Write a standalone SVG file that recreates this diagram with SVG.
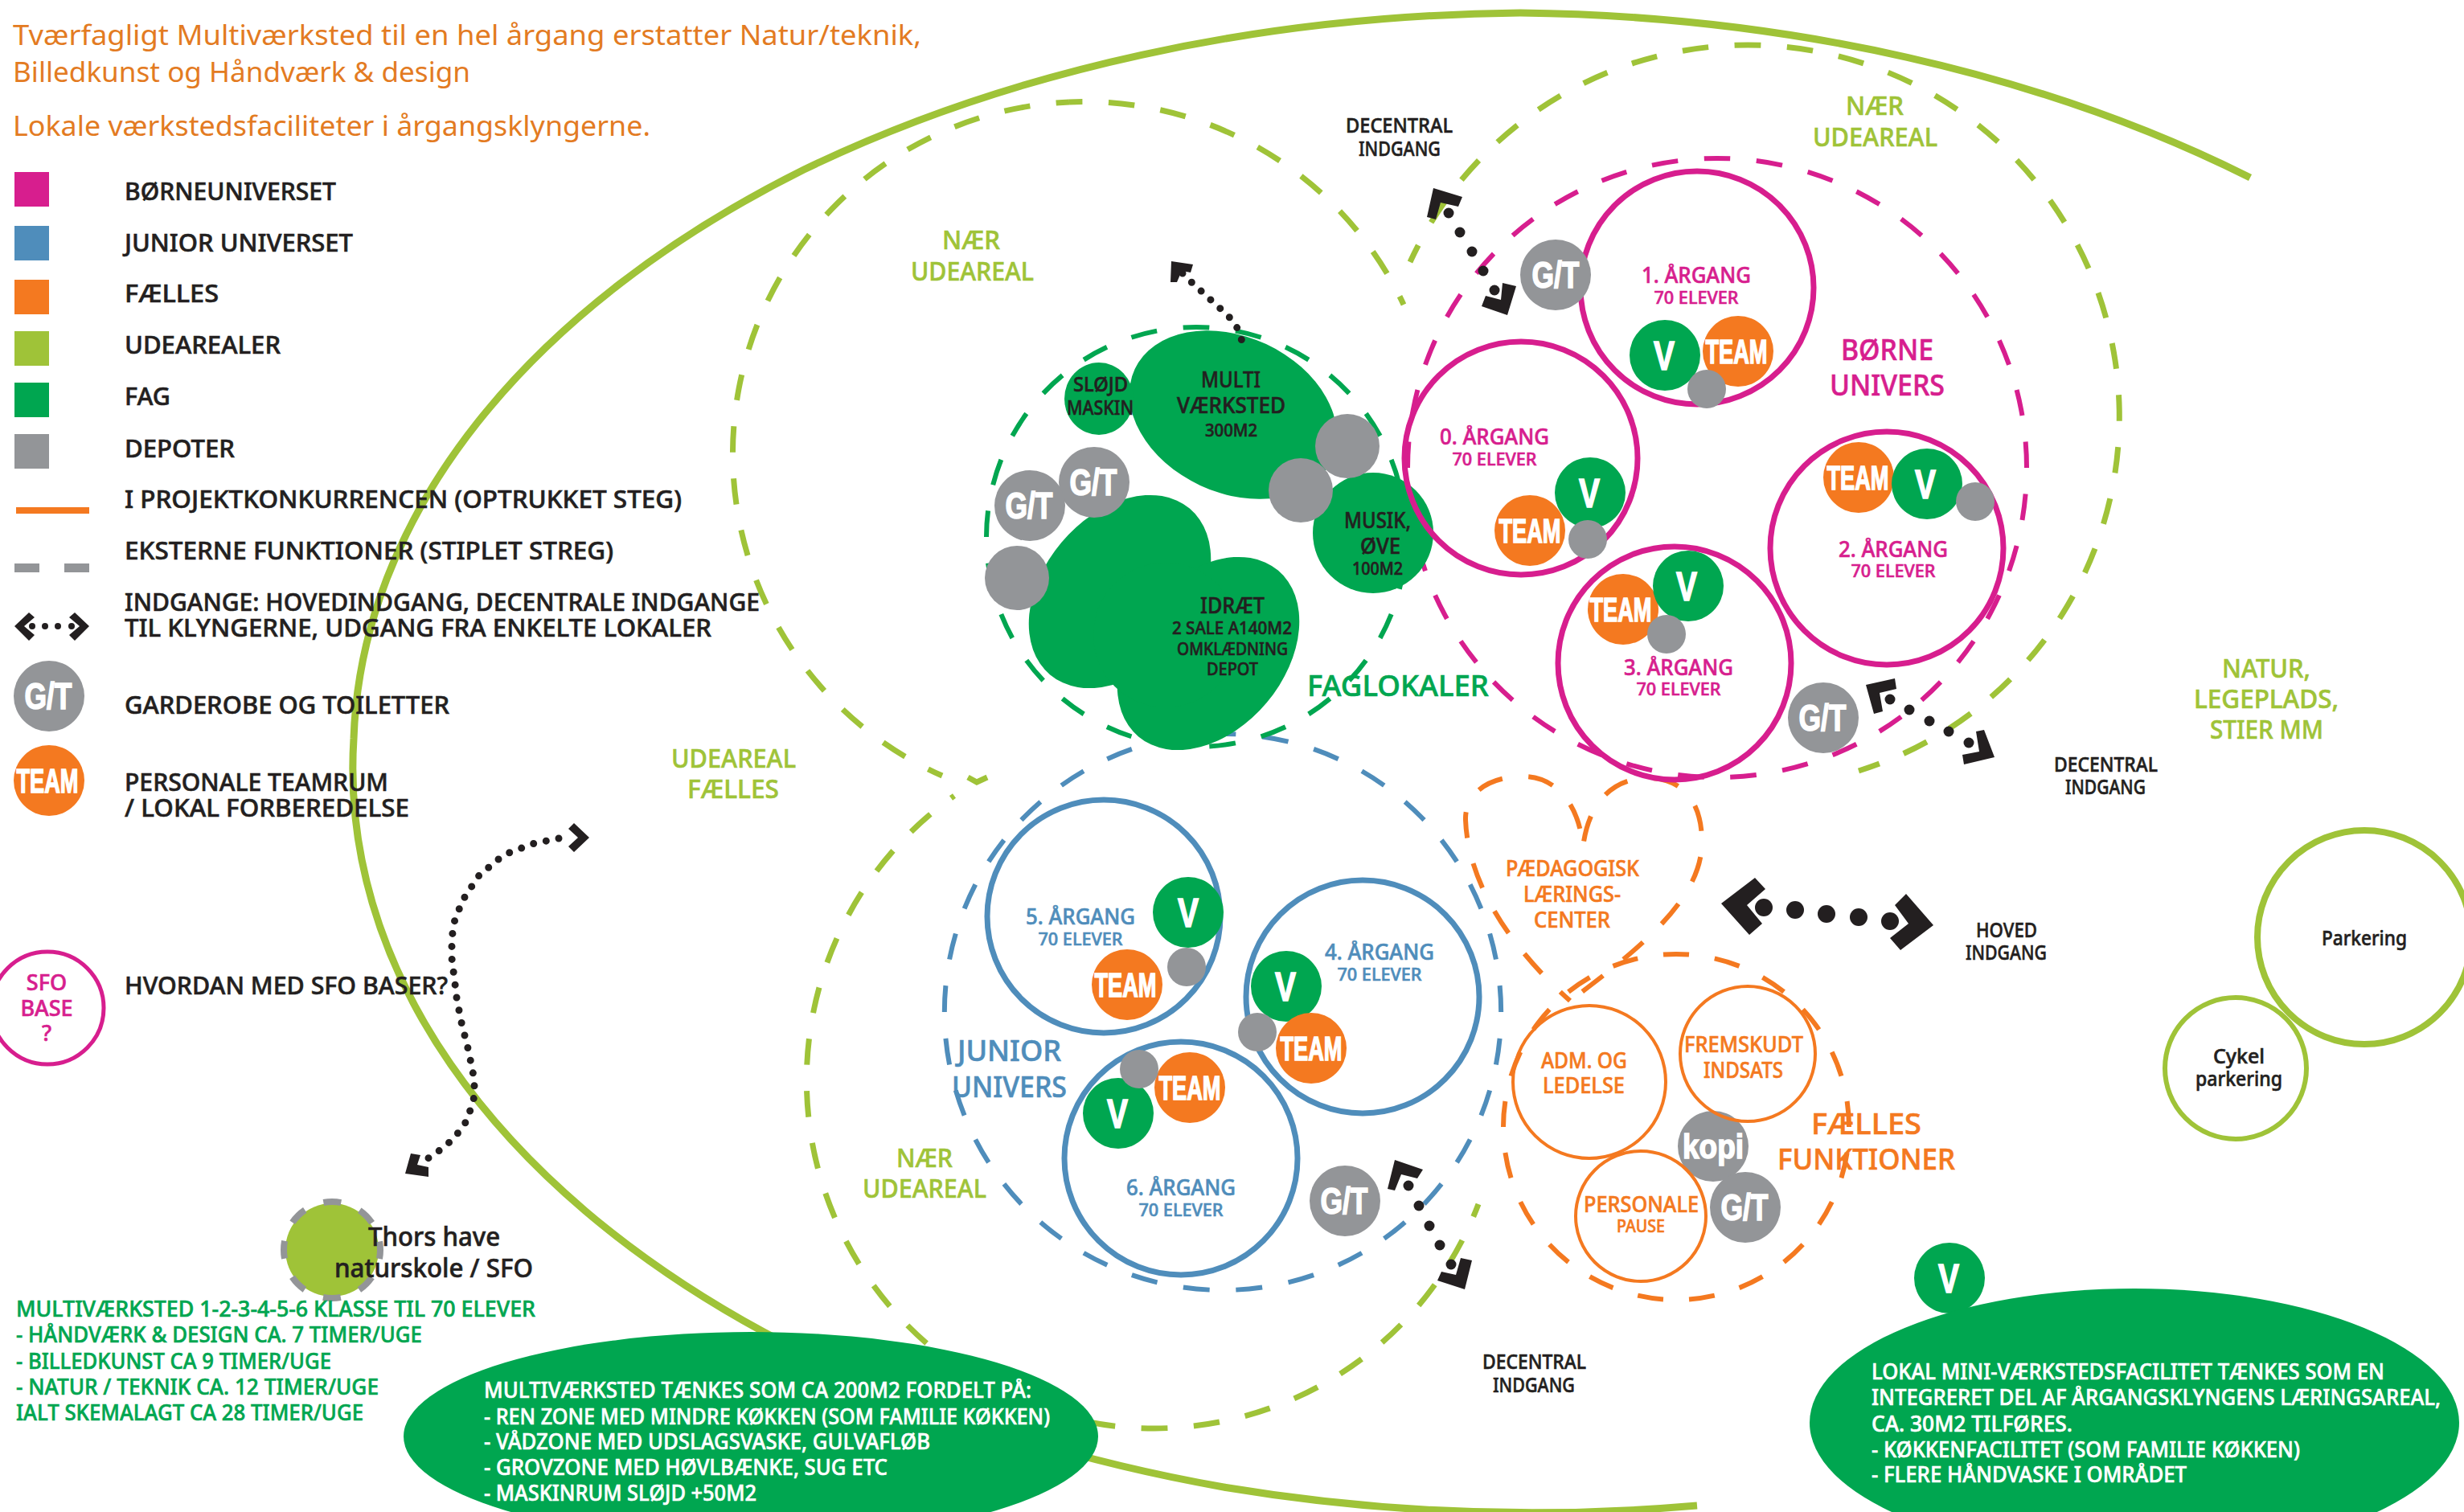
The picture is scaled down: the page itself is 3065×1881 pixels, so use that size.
<svg xmlns="http://www.w3.org/2000/svg" width="3065" height="1881" viewBox="0 0 3065 1881">
<style>
text{font-family:"Noto Sans","Liberation Sans",sans-serif;font-weight:500}
.m{text-anchor:middle}
.k{fill:#231f20}.hd{fill:#e37b22;font-weight:400;font-size:35px}
.fm{fill:#d71e8e}.fb{fill:#4f8dbb}.fo{fill:#f47920}.fl{fill:#9fc338}.fg{fill:#00a650}.fy{fill:#939598}.fw{fill:#fff}
text.k{stroke:#231f20;stroke-width:.6}text.fm{stroke:#d71e8e;stroke-width:.6}text.fb{stroke:#4f8dbb;stroke-width:.6}text.fo{stroke:#f47920;stroke-width:.6}text.fl{stroke:#9fc338;stroke-width:.6}text.fg{stroke:#00a650;stroke-width:.6}text.fw{stroke:#fff;stroke-width:.6}
.lg{font-size:31px}
.s20{font-size:21px}.s25{font-size:25px}.s27{font-size:27px}.s32{font-size:32px}.s36{font-size:36px}
.b{font-family:"Liberation Sans",sans-serif;font-weight:700;fill:#fff;stroke:#fff;stroke-width:1.6;text-anchor:middle}
.gt{font-size:46px}.tm{font-size:42px}.vv{font-size:50px}
.n{fill:none}
.d{fill:none;stroke-width:6;stroke-dasharray:32.5 32.5;stroke-dashoffset:16}
.dl{stroke-width:7}
.dp{fill:none;stroke-width:6;stroke-dasharray:1 1;stroke-dashoffset:.5}
.sm{stroke:#d71e8e}.sb{stroke:#4f8dbb}.so{stroke:#f47920}.sl{stroke:#9fc338}.sg{stroke:#00a650}
.yr{fill:none;stroke-width:7}
.dots{fill:none;stroke:#231f20;stroke-width:9;stroke-linecap:round;stroke-dasharray:0 16}
.head{fill:#231f20}.dot{fill:#231f20}
</style>

<g id="outer-area">
<path class="n sl" stroke-width="9" d="M2799 221A1490 930 0 0 0 1891 16A1490 930 0 0 0 1000 211A1490 930 0 0 0 440 919A1490 930 0 0 0 950 1657A1490 930 0 0 0 1522 1850A1490 930 0 0 0 2111 1873"/>
</g>

<g id="dashed-zones">
<path class="d dl sl" d="M1330 127A438 438 0 0 1 1746 379"/>
<path class="d dl sl" d="M1330 127A438 438 0 0 0 1172 965"/>
<path class="d dl sl" d="M2174 56A462 462 0 0 1 2312 959"/>
<path class="d dl sl" d="M2174 56A462 462 0 0 0 1754 326"/>
<path class="d dl sl" d="M1436 1777A433 433 0 0 0 1839 1498"/>
<path class="d dl sl" d="M1436 1777A433 433 0 0 1 1187 990"/>
<path class="n sl" stroke-width="7" d="M1204 967L1215 973L1228 967"/>
<path class="dp sm" pathLength="74" d="M2136 197A385 385 0 1 1 2136 967A385 385 0 1 1 2136 197"/>
<path class="dp sb" pathLength="66" d="M1521 913A346 346 0 1 1 1521 1605A346 346 0 1 1 1521 913"/>
<path class="dp so" pathLength="42" d="M2085 1187A215 215 0 1 1 2085 1617A215 215 0 1 1 2085 1187"/>
<path class="d so" d="M1953 1245C1880 1180 1826 1100 1823 1020C1822 985 1855 965 1897 966C1935 967 1965 1000 1969 1055C1975 1000 2005 968 2050 968C2095 968 2118 1000 2117 1050C2115 1120 2040 1180 1953 1245Z"/>
<path class="dp sg" pathLength="50" d="M1488 407A261 261 0 1 1 1488 929A261 261 0 1 1 1488 407"/>
</g>

<g id="legend">
<rect class="fm" x="18" y="214" width="43" height="43"/>
<rect class="fb" x="18" y="281" width="43" height="43"/>
<rect class="fo" x="18" y="348" width="43" height="43"/>
<rect class="fl" x="18" y="412" width="43" height="43"/>
<rect class="fg" x="18" y="476" width="43" height="43"/>
<rect class="fy" x="18" y="540" width="43" height="43"/>
<rect class="fo" x="20" y="631" width="91" height="8"/>
<rect class="fy" x="18" y="701" width="31" height="11"/>
<rect class="fy" x="80" y="701" width="31" height="11"/>
<polygon class="head" points="18,779 36,762 43,768 30,779 43,790 36,797"/>
<polygon class="head" points="111,779 93,762 86,768 99,779 86,790 93,797"/>
<circle class="dot" cx="40" cy="779" r="4"/><circle class="dot" cx="56" cy="779" r="4"/><circle class="dot" cx="72" cy="779" r="4"/><circle class="dot" cx="89" cy="779" r="4"/>
<text class="k lg" x="155" y="249" textLength="263" lengthAdjust="spacingAndGlyphs">BØRNEUNIVERSET</text>
<text class="k lg" x="155" y="313" textLength="284" lengthAdjust="spacingAndGlyphs">JUNIOR UNIVERSET</text>
<text class="k lg" x="155" y="376" textLength="117" lengthAdjust="spacingAndGlyphs">FÆLLES</text>
<text class="k lg" x="155" y="440" textLength="194" lengthAdjust="spacingAndGlyphs">UDEAREALER</text>
<text class="k lg" x="155" y="504" textLength="57" lengthAdjust="spacingAndGlyphs">FAG</text>
<text class="k lg" x="155" y="569" textLength="137" lengthAdjust="spacingAndGlyphs">DEPOTER</text>
<text class="k lg" x="155" y="632" textLength="693" lengthAdjust="spacingAndGlyphs">I PROJEKTKONKURRENCEN (OPTRUKKET STEG)</text>
<text class="k lg" x="155" y="696" textLength="608" lengthAdjust="spacingAndGlyphs">EKSTERNE FUNKTIONER (STIPLET STREG)</text>
<text class="k lg" x="155" y="760" textLength="790" lengthAdjust="spacingAndGlyphs">INDGANGE: HOVEDINDGANG, DECENTRALE INDGANGE</text>
<text class="k lg" x="155" y="792" textLength="730" lengthAdjust="spacingAndGlyphs">TIL KLYNGERNE, UDGANG FRA ENKELTE LOKALER</text>
<text class="k lg" x="155" y="888" textLength="404" lengthAdjust="spacingAndGlyphs">GARDEROBE OG TOILETTER</text>
<text class="k lg" x="155" y="984" textLength="328" lengthAdjust="spacingAndGlyphs">PERSONALE TEAMRUM</text>
<text class="k lg" x="155" y="1016" textLength="354" lengthAdjust="spacingAndGlyphs">/ LOKAL FORBEREDELSE</text>
<text class="k lg" x="155" y="1237" textLength="402" lengthAdjust="spacingAndGlyphs">HVORDAN MED SFO BASER?</text>
</g>
<g id="legend-gt"><circle class="fy" cx="61" cy="866" r="44"/><text class="b gt" x="60" y="882" textLength="59" lengthAdjust="spacingAndGlyphs">G/T</text></g>
<g id="legend-team"><circle class="fo" cx="61" cy="971" r="44"/><text class="b tm" x="59" y="986" textLength="77" lengthAdjust="spacingAndGlyphs">TEAM</text></g>
<g id="sfo-base"><circle class="n sm" stroke-width="5" cx="59" cy="1254" r="70"/>
<text class="fm s27 m" x="58" y="1232">SFO</text><text class="fm s27 m" x="58" y="1264">BASE</text><text class="fm s27 m" x="58" y="1295">?</text></g>

<g id="header">
<text class="hd" x="16" y="56" textLength="1130" lengthAdjust="spacingAndGlyphs">Tværfagligt Multiværksted til en hel årgang erstatter Natur/teknik,</text>
<text class="hd" x="16" y="102" textLength="569" lengthAdjust="spacingAndGlyphs">Billedkunst og Håndværk &amp; design</text>
<text class="hd" x="16" y="169" textLength="793" lengthAdjust="spacingAndGlyphs">Lokale værkstedsfaciliteter i årgangsklyngerne.</text>
</g>

<g id="area-labels">
<text class="fl s32" x="1172" y="310" textLength="72" lengthAdjust="spacingAndGlyphs">NÆR</text>
<text class="fl s32" x="1133" y="349" textLength="153" lengthAdjust="spacingAndGlyphs">UDEAREAL</text>
<text class="fl s32" x="2296" y="143" textLength="72" lengthAdjust="spacingAndGlyphs">NÆR</text>
<text class="fl s32" x="2255" y="182" textLength="155" lengthAdjust="spacingAndGlyphs">UDEAREAL</text>
<text class="fl s32" x="1115" y="1452" textLength="70" lengthAdjust="spacingAndGlyphs">NÆR</text>
<text class="fl s32" x="1073" y="1490" textLength="154" lengthAdjust="spacingAndGlyphs">UDEAREAL</text>
<text class="fl s32" x="835" y="955" textLength="155" lengthAdjust="spacingAndGlyphs">UDEAREAL</text>
<text class="fl s32" x="855" y="993" textLength="114" lengthAdjust="spacingAndGlyphs">FÆLLES</text>
<text class="fl s32" x="2764" y="843" textLength="110" lengthAdjust="spacingAndGlyphs">NATUR,</text>
<text class="fl s32" x="2729" y="881" textLength="180" lengthAdjust="spacingAndGlyphs">LEGEPLADS,</text>
<text class="fl s32" x="2749" y="919" textLength="141" lengthAdjust="spacingAndGlyphs">STIER MM</text>
<text class="fm s36" x="2290" y="448" textLength="115" lengthAdjust="spacingAndGlyphs">BØRNE</text>
<text class="fm s36" x="2276" y="492" textLength="143" lengthAdjust="spacingAndGlyphs">UNIVERS</text>
<text class="fb s36" x="1191" y="1320" textLength="129" lengthAdjust="spacingAndGlyphs">JUNIOR</text>
<text class="fb s36" x="1184" y="1365" textLength="143" lengthAdjust="spacingAndGlyphs">UNIVERS</text>
<text class="fg s36" x="1626" y="866" textLength="226" lengthAdjust="spacingAndGlyphs">FAGLOKALER</text>
<text class="fo s36" x="2253" y="1411" textLength="137" lengthAdjust="spacingAndGlyphs">FÆLLES</text>
<text class="fo s36" x="2211" y="1455" textLength="221" lengthAdjust="spacingAndGlyphs">FUNKTIONER</text>
<text class="k s25" x="1674" y="165" textLength="133" lengthAdjust="spacingAndGlyphs">DECENTRAL</text>
<text class="k s25" x="1690" y="194" textLength="102" lengthAdjust="spacingAndGlyphs">INDGANG</text>
<text class="k s25" x="2555" y="960" textLength="129" lengthAdjust="spacingAndGlyphs">DECENTRAL</text>
<text class="k s25" x="2569" y="988" textLength="100" lengthAdjust="spacingAndGlyphs">INDGANG</text>
<text class="k s25" x="2458" y="1166" textLength="76" lengthAdjust="spacingAndGlyphs">HOVED</text>
<text class="k s25" x="2445" y="1194" textLength="101" lengthAdjust="spacingAndGlyphs">INDGANG</text>
<text class="k s25" x="1844" y="1703" textLength="129" lengthAdjust="spacingAndGlyphs">DECENTRAL</text>
<text class="k s25" x="1857" y="1732" textLength="102" lengthAdjust="spacingAndGlyphs">INDGANG</text>
</g>

<g id="faglokaler">
<g id="idraet"><ellipse class="fg" cx="1393" cy="736" rx="135" ry="95" transform="rotate(-50 1393 736)"/><ellipse class="fg" cx="1503" cy="813" rx="135" ry="95" transform="rotate(-50 1503 813)"/><circle class="fg" cx="1450" cy="790" r="90"/>
<text class="k s27" x="1493" y="763" textLength="80" lengthAdjust="spacingAndGlyphs">IDRÆT</text>
<text class="k s20" x="1458" y="789" textLength="149" lengthAdjust="spacingAndGlyphs">2 SALE A140M2</text>
<text class="k s20" x="1464" y="815" textLength="138" lengthAdjust="spacingAndGlyphs">OMKLÆDNING</text>
<text class="k s20" x="1501" y="840" textLength="64" lengthAdjust="spacingAndGlyphs">DEPOT</text></g>
<g id="multi"><ellipse class="fg" cx="1534" cy="516" rx="135" ry="97" transform="rotate(25 1534 516)"/>
<text class="k s27" x="1494" y="482" textLength="74" lengthAdjust="spacingAndGlyphs">MULTI</text>
<text class="k s27" x="1464" y="514" textLength="135" lengthAdjust="spacingAndGlyphs">VÆRKSTED</text>
<text class="k s20" x="1499" y="543" textLength="65" lengthAdjust="spacingAndGlyphs">300M2</text></g>
<g id="slojd"><ellipse class="fg" cx="1367" cy="496" rx="43" ry="45"/>
<text class="k s25" x="1335" y="487" textLength="68" lengthAdjust="spacingAndGlyphs">SLØJD</text>
<text class="k s25" x="1327" y="516" textLength="83" lengthAdjust="spacingAndGlyphs">MASKIN</text></g>
<g id="musik"><circle class="fg" cx="1708" cy="663" r="75"/>
<text class="k s27" x="1672" y="657" textLength="83" lengthAdjust="spacingAndGlyphs">MUSIK,</text>
<text class="k s27" x="1692" y="689" textLength="50" lengthAdjust="spacingAndGlyphs">ØVE</text>
<text class="k s20" x="1682" y="715" textLength="63" lengthAdjust="spacingAndGlyphs">100M2</text></g>
<g id="fag-depoter"><circle class="fy" cx="1265" cy="719" r="40"/><circle class="fy" cx="1676" cy="555" r="40"/><circle class="fy" cx="1618" cy="610" r="40"/></g>
<g id="fag-gt1"><circle class="fy" cx="1361" cy="600" r="44"/><text class="b gt" x="1360" y="616" textLength="59" lengthAdjust="spacingAndGlyphs">G/T</text></g>
<g id="fag-gt2"><circle class="fy" cx="1281" cy="629" r="44"/><text class="b gt" x="1280" y="645" textLength="59" lengthAdjust="spacingAndGlyphs">G/T</text></g>
</g>

<g id="aargang-0"><circle class="yr sm" cx="1892" cy="570" r="145"/>
<text class="fm s27 m" x="1859" y="553" textLength="136" lengthAdjust="spacingAndGlyphs">0. ÅRGANG</text><text class="fm s20 m" x="1859" y="579" textLength="105" lengthAdjust="spacingAndGlyphs">70 ELEVER</text>
<circle class="fg" cx="1978" cy="613" r="44"/><circle class="fo" cx="1903" cy="660" r="44"/><circle class="fy" cx="1975" cy="671" r="24"/>
<text class="b vv" x="1977" y="631" textLength="26" lengthAdjust="spacingAndGlyphs">V</text><text class="b tm" x="1903" y="675" textLength="77" lengthAdjust="spacingAndGlyphs">TEAM</text></g>
<g id="aargang-1"><circle class="yr sm" cx="2111" cy="358" r="145"/>
<text class="fm s27 m" x="2110" y="352" textLength="136" lengthAdjust="spacingAndGlyphs">1. ÅRGANG</text><text class="fm s20 m" x="2110" y="378" textLength="105" lengthAdjust="spacingAndGlyphs">70 ELEVER</text>
<circle class="fg" cx="2071" cy="442" r="44"/><circle class="fo" cx="2162" cy="437" r="44"/><circle class="fy" cx="2123" cy="484" r="24"/>
<text class="b vv" x="2070" y="460" textLength="26" lengthAdjust="spacingAndGlyphs">V</text><text class="b tm" x="2160" y="452" textLength="77" lengthAdjust="spacingAndGlyphs">TEAM</text></g>
<g id="aargang-2"><circle class="yr sm" cx="2347" cy="682" r="145"/>
<text class="fm s27 m" x="2355" y="693" textLength="136" lengthAdjust="spacingAndGlyphs">2. ÅRGANG</text><text class="fm s20 m" x="2355" y="718" textLength="105" lengthAdjust="spacingAndGlyphs">70 ELEVER</text>
<circle class="fo" cx="2312" cy="594" r="44"/><circle class="fg" cx="2397" cy="602" r="44"/><circle class="fy" cx="2457" cy="624" r="24"/>
<text class="b tm" x="2311" y="609" textLength="77" lengthAdjust="spacingAndGlyphs">TEAM</text><text class="b vv" x="2395" y="620" textLength="26" lengthAdjust="spacingAndGlyphs">V</text></g>
<g id="aargang-3"><circle class="yr sm" cx="2083" cy="825" r="145"/>
<text class="fm s27 m" x="2088" y="840" textLength="136" lengthAdjust="spacingAndGlyphs">3. ÅRGANG</text><text class="fm s20 m" x="2088" y="865" textLength="105" lengthAdjust="spacingAndGlyphs">70 ELEVER</text>
<circle class="fo" cx="2019" cy="758" r="44"/><circle class="fg" cx="2100" cy="729" r="44"/><circle class="fy" cx="2073" cy="789" r="24"/>
<text class="b vv" x="2098" y="747" textLength="26" lengthAdjust="spacingAndGlyphs">V</text><text class="b tm" x="2016" y="773" textLength="77" lengthAdjust="spacingAndGlyphs">TEAM</text></g>
<g id="gt-north"><circle class="fy" cx="1935" cy="342" r="44"/><text class="b gt" x="1935" y="358" textLength="59" lengthAdjust="spacingAndGlyphs">G/T</text></g>
<g id="gt-east"><circle class="fy" cx="2268" cy="893" r="44"/><text class="b gt" x="2267" y="909" textLength="59" lengthAdjust="spacingAndGlyphs">G/T</text></g>

<g id="aargang-5"><circle class="yr sb" cx="1373" cy="1140" r="145"/>
<text class="fb s27 m" x="1344" y="1150" textLength="136" lengthAdjust="spacingAndGlyphs">5. ÅRGANG</text><text class="fb s20 m" x="1344" y="1176" textLength="105" lengthAdjust="spacingAndGlyphs">70 ELEVER</text>
<circle class="fg" cx="1478" cy="1135" r="44"/><circle class="fy" cx="1476" cy="1203" r="24"/><circle class="fo" cx="1402" cy="1225" r="44"/>
<text class="b vv" x="1478" y="1153" textLength="26" lengthAdjust="spacingAndGlyphs">V</text><text class="b tm" x="1400" y="1240" textLength="77" lengthAdjust="spacingAndGlyphs">TEAM</text></g>
<g id="aargang-4"><circle class="yr sb" cx="1695" cy="1240" r="145"/>
<text class="fb s27 m" x="1716" y="1194" textLength="136" lengthAdjust="spacingAndGlyphs">4. ÅRGANG</text><text class="fb s20 m" x="1716" y="1220" textLength="105" lengthAdjust="spacingAndGlyphs">70 ELEVER</text>
<circle class="fg" cx="1600" cy="1227" r="44"/><circle class="fo" cx="1631" cy="1304" r="44"/><circle class="fy" cx="1564" cy="1284" r="24"/>
<text class="b vv" x="1599" y="1245" textLength="26" lengthAdjust="spacingAndGlyphs">V</text><text class="b tm" x="1631" y="1319" textLength="77" lengthAdjust="spacingAndGlyphs">TEAM</text></g>
<g id="aargang-6"><circle class="yr sb" cx="1469" cy="1441" r="145"/>
<text class="fb s27 m" x="1469" y="1487" textLength="136" lengthAdjust="spacingAndGlyphs">6. ÅRGANG</text><text class="fb s20 m" x="1469" y="1513" textLength="105" lengthAdjust="spacingAndGlyphs">70 ELEVER</text>
<circle class="fo" cx="1480" cy="1353" r="44"/><circle class="fg" cx="1391" cy="1385" r="44"/><circle class="fy" cx="1417" cy="1330" r="24"/>
<text class="b tm" x="1480" y="1368" textLength="77" lengthAdjust="spacingAndGlyphs">TEAM</text><text class="b vv" x="1390" y="1403" textLength="26" lengthAdjust="spacingAndGlyphs">V</text></g>
<g id="gt-junior"><circle class="fy" cx="1673" cy="1494" r="44"/><text class="b gt" x="1672" y="1510" textLength="59" lengthAdjust="spacingAndGlyphs">G/T</text></g>

<g id="paedagogisk"><text class="fo s27" x="1873" y="1090" textLength="166" lengthAdjust="spacingAndGlyphs">PÆDAGOGISK</text><text class="fo s27" x="1895" y="1122" textLength="121" lengthAdjust="spacingAndGlyphs">LÆRINGS-</text><text class="fo s27" x="1908" y="1154" textLength="95" lengthAdjust="spacingAndGlyphs">CENTER</text></g>
<g id="kopi"><circle class="fy" cx="2131" cy="1426" r="44"/><text class="b" font-size="42" x="2131" y="1441" textLength="76" lengthAdjust="spacingAndGlyphs">kopi</text></g>
<g id="gt-faelles"><circle class="fy" cx="2171" cy="1502" r="44"/><text class="b gt" x="2170" y="1518" textLength="59" lengthAdjust="spacingAndGlyphs">G/T</text></g>
<g id="adm"><circle class="n so" stroke-width="4" cx="1977" cy="1346" r="95"/><text class="fo s27" x="1917" y="1329" textLength="107" lengthAdjust="spacingAndGlyphs">ADM. OG</text><text class="fo s27" x="1919" y="1360" textLength="102" lengthAdjust="spacingAndGlyphs">LEDELSE</text></g>
<g id="fremskudt"><circle class="n so" stroke-width="4" cx="2174" cy="1311" r="84"/><text class="fo s27" x="2095" y="1309" textLength="148" lengthAdjust="spacingAndGlyphs">FREMSKUDT</text><text class="fo s27" x="2119" y="1341" textLength="99" lengthAdjust="spacingAndGlyphs">INDSATS</text></g>
<g id="personale"><circle class="n so" stroke-width="4" cx="2041" cy="1513" r="81"/><text class="fo s27" x="1970" y="1508" textLength="143" lengthAdjust="spacingAndGlyphs">PERSONALE</text><text class="fo s20" x="2011" y="1533" textLength="60" lengthAdjust="spacingAndGlyphs">PAUSE</text></g>

<g id="parkering"><circle class="n sl" stroke-width="8" cx="2941" cy="1166" r="133"/><text class="k s25 m" x="2941" y="1176" textLength="106" lengthAdjust="spacingAndGlyphs">Parkering</text></g>
<g id="cykel"><circle class="n sl" stroke-width="6" cx="2781" cy="1329" r="88"/><text class="k s25 m" x="2785" y="1323">Cykel</text><text class="k s25 m" x="2785" y="1351" textLength="108" lengthAdjust="spacingAndGlyphs">parkering</text></g>

<g id="thors"><circle class="fl" cx="413" cy="1555" r="58"/><circle class="n" stroke="#939598" stroke-width="8" cx="413" cy="1555" r="60" stroke-dasharray="22 25.1" stroke-dashoffset="11"/>
<text class="k s32" x="458" y="1550" textLength="164" lengthAdjust="spacingAndGlyphs">Thors have</text><text class="k s32" x="416" y="1589" textLength="247" lengthAdjust="spacingAndGlyphs">naturskole / SFO</text></g>

<g id="multi-note">
<text class="fg s27" x="20" y="1638" textLength="646" lengthAdjust="spacingAndGlyphs">MULTIVÆRKSTED 1-2-3-4-5-6 KLASSE TIL 70 ELEVER</text>
<text class="fg s27" x="20" y="1670" textLength="505" lengthAdjust="spacingAndGlyphs">- HÅNDVÆRK &amp; DESIGN CA. 7 TIMER/UGE</text>
<text class="fg s27" x="20" y="1703" textLength="392" lengthAdjust="spacingAndGlyphs">- BILLEDKUNST CA 9 TIMER/UGE</text>
<text class="fg s27" x="20" y="1735" textLength="451" lengthAdjust="spacingAndGlyphs">- NATUR / TEKNIK CA. 12 TIMER/UGE</text>
<text class="fg s27" x="20" y="1767" textLength="432" lengthAdjust="spacingAndGlyphs">IALT SKEMALAGT CA 28 TIMER/UGE</text>
</g>
<g id="note-multi"><ellipse class="fg" cx="934" cy="1787" rx="432" ry="130"/>
<text class="fw s27" x="602" y="1739" textLength="681" lengthAdjust="spacingAndGlyphs">MULTIVÆRKSTED TÆNKES SOM CA 200M2 FORDELT PÅ:</text>
<text class="fw s27" x="602" y="1772" textLength="704" lengthAdjust="spacingAndGlyphs">- REN ZONE MED MINDRE KØKKEN (SOM FAMILIE KØKKEN)</text>
<text class="fw s27" x="602" y="1803" textLength="555" lengthAdjust="spacingAndGlyphs">- VÅDZONE MED UDSLAGSVASKE, GULVAFLØB</text>
<text class="fw s27" x="602" y="1835" textLength="502" lengthAdjust="spacingAndGlyphs">- GROVZONE MED HØVLBÆNKE, SUG ETC</text>
<text class="fw s27" x="602" y="1867" textLength="339" lengthAdjust="spacingAndGlyphs">- MASKINRUM SLØJD +50M2</text></g>
<g id="v-note"><circle class="fg" cx="2425" cy="1590" r="44"/><text class="b vv" x="2424" y="1608" textLength="26" lengthAdjust="spacingAndGlyphs">V</text></g>
<g id="note-lokal"><ellipse class="fg" cx="2655" cy="1770" rx="404" ry="167"/>
<text class="fw s27" x="2328" y="1716" textLength="638" lengthAdjust="spacingAndGlyphs">LOKAL MINI-VÆRKSTEDSFACILITET TÆNKES SOM EN</text>
<text class="fw s27" x="2328" y="1748" textLength="708" lengthAdjust="spacingAndGlyphs">INTEGRERET DEL AF ÅRGANGSKLYNGENS LÆRINGSAREAL,</text>
<text class="fw s27" x="2328" y="1781" textLength="250" lengthAdjust="spacingAndGlyphs">CA. 30M2 TILFØRES.</text>
<text class="fw s27" x="2328" y="1813" textLength="533" lengthAdjust="spacingAndGlyphs">- KØKKENFACILITET (SOM FAMILIE KØKKEN)</text>
<text class="fw s27" x="2328" y="1844" textLength="392" lengthAdjust="spacingAndGlyphs">- FLERE HÅNDVASKE I OMRÅDET</text></g>

<g id="connectors">
<g id="arrow-sfo">
<path class="dots" d="M695 1043L680 1046L665 1049L649 1055L633 1061L620 1069L608 1079L596 1089L588 1101L579 1114L572 1129L566 1143L563 1160L562 1176L562 1192L564 1208L566 1224L568 1241L571 1257L574 1272L578 1288L582 1304L585 1318L588 1332L590 1348L590 1364L585 1381L580 1395L571 1408L559 1421L547 1431L534 1440L520 1449"/>
<polygon class="head" points="733,1042 714,1024 707,1031 719,1042 707,1053 714,1060"/>
<polygon class="head" points="504,1460 511,1435 523,1437 519,1449 533,1452 533,1464"/>
</g>
<g id="arrow-fag">
<path class="dots" d="M1471 340L1482 351L1494 362L1506 373L1517 383L1528 393L1538 406L1544 420L1546 436"/>
<polygon class="head" points="1457,325 1484,329 1481,339 1470,337 1464,351 1456,351"/>
</g>
<g id="arrow-north">
<circle class="dot" cx="1802" cy="265" r="6.5"/><circle class="dot" cx="1816" cy="289" r="6.5"/><circle class="dot" cx="1831" cy="313" r="6.5"/><circle class="dot" cx="1845" cy="337" r="6.5"/><circle class="dot" cx="1859" cy="361" r="6.5"/>
<polygon class="head" points="1783,234 1819,245 1814,257 1792,252 1786,273 1775,270"/>
<polygon class="head" points="1886,356 1875,392 1843,381 1848,368 1867,373 1869,352"/>
</g>
<g id="arrow-east">
<circle class="dot" cx="2351" cy="870" r="6.5"/><circle class="dot" cx="2375" cy="883" r="6.5"/><circle class="dot" cx="2400" cy="897" r="6.5"/><circle class="dot" cx="2424" cy="910" r="6.5"/><circle class="dot" cx="2449" cy="924" r="6.5"/>
<polygon class="head" points="2321,852 2357,844 2359,857 2338,862 2342,885 2331,888"/>
<polygon class="head" points="2468,908 2481,942 2443,951 2441,939 2462,935 2458,910"/>
</g>
<g id="arrow-south">
<circle class="dot" cx="1752" cy="1475" r="6.5"/><circle class="dot" cx="1765" cy="1500" r="6.5"/><circle class="dot" cx="1778" cy="1525" r="6.5"/><circle class="dot" cx="1791" cy="1549" r="6.5"/><circle class="dot" cx="1805" cy="1573" r="6.5"/>
<polygon class="head" points="1735,1443 1770,1455 1763,1466 1743,1461 1735,1481 1726,1479"/>
<polygon class="head" points="1831,1568 1822,1604 1788,1593 1793,1582 1811,1586 1817,1565"/>
</g>
<g id="arrow-main">
<circle class="dot" cx="2194" cy="1129" r="11"/><circle class="dot" cx="2233" cy="1132" r="11"/><circle class="dot" cx="2272" cy="1137" r="11"/><circle class="dot" cx="2312" cy="1141" r="11"/><circle class="dot" cx="2351" cy="1146" r="11"/>
<polygon class="head" points="2183,1092 2196,1106 2173,1126 2192,1149 2176,1163 2141,1124"/>
<polygon class="head" points="2371,1112 2405,1151 2364,1182 2351,1167 2374,1149 2357,1126"/>
</g>
</g>
</svg>
